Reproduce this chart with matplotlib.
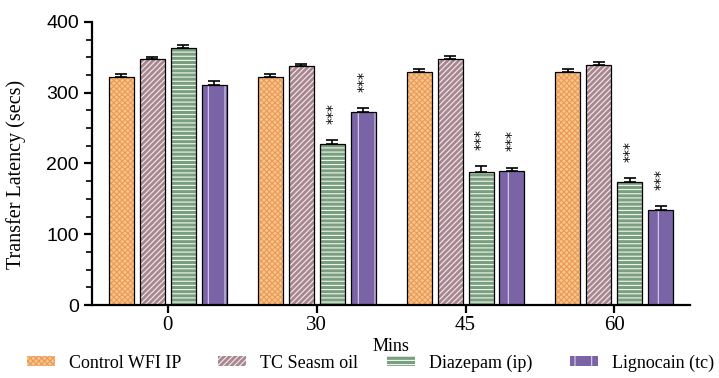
import numpy as np
import matplotlib
matplotlib.use('Agg')
import matplotlib.pyplot as plt
from matplotlib.ticker import MultipleLocator

times = ["0", "30", "45", "60"]
groups = ["Control WFI IP", "TC Seasm oil", "Diazepam (ip)", "Lignocain (tc)"]
control = [322, 322, 329, 329]
control_err = [5, 4, 5, 5]
seasm = [348, 338, 347, 339]
seasm_err = [3, 2, 5, 5]
diazepam = [363, 227, 188, 174]
diazepam_err = [4, 6, 8, 5]
lignocain = [311, 273, 190, 134]
lignocain_err = [5, 5, 4, 6]
# significance marks: (time index, series index)
stars = [(1, 2), (1, 3), (2, 2), (2, 3), (3, 2), (3, 3)]

series = [control, seasm, diazepam, lignocain]
errors = [control_err, seasm_err, diazepam_err, lignocain_err]
styles = [
    {"face": "#F9C48C", "hatch": "xxxxxx", "hcol": "#E99B55"},
    {"face": "#A88790", "hatch": "//////", "hcol": "#F4ECEE"},
    {"face": "#7A9F7E", "hatch": "----",   "hcol": "#F1F6F1"},
    {"face": "#7A64A6", "hatch": "|",      "hcol": "#D9D2EC"},
]

plt.rcParams['hatch.linewidth'] = 0.8
fig = plt.figure(figsize=(7.19, 3.78), dpi=100)
ax = fig.add_axes([0.128, 0.193, 0.832, 0.749])

x = np.arange(len(times))
step = 0.208
width = 0.168
handles = []
for i, (vals, errs, st) in enumerate(zip(series, errors, styles)):
    pos = x + (i - 1.5) * step
    ax.bar(pos, vals, width, color=st["face"], edgecolor=st["hcol"],
           hatch=st["hatch"], linewidth=0, zorder=2)
    ax.bar(pos, vals, width, color='none', edgecolor='black', linewidth=0.9, zorder=3)
    ax.errorbar(pos, vals, yerr=[np.zeros(len(errs)), errs], fmt='none',
                ecolor='black', elinewidth=1.2, capsize=4, capthick=1.2, zorder=4)
    h = matplotlib.patches.Patch(facecolor=st["face"], edgecolor=st["hcol"], hatch=st["hatch"],
                                 linewidth=0)
    handles.append(h)

for ti, si in stars:
    xp = x[ti] + (si - 1.5) * step
    top = series[si][ti] + errors[si][ti]
    ax.text(xp, top + 38, '***', rotation=90, ha='center', va='center',
            fontsize=10, family='DejaVu Sans', color='black')

ax.set_xlim(-0.51, 3.51)
ax.set_ylim(0, 400)
ax.yaxis.set_major_locator(MultipleLocator(100))
ax.yaxis.set_minor_locator(MultipleLocator(25))
ax.set_xticks(x)
ax.set_xticklabels(times, fontsize=15, family='Liberation Serif')
for side in ['top', 'right']:
    ax.spines[side].set_visible(False)
for side in ['left', 'bottom']:
    ax.spines[side].set_linewidth(1.6)
ax.tick_params(axis='y', which='major', labelsize=14, width=1.6, length=6,
               labelfontfamily='Liberation Sans')
ax.tick_params(axis='x', which='major', width=1.6, length=6, pad=2)
ax.tick_params(axis='y', which='minor', width=1.2, length=4)

ax.set_ylabel('Transfer Latency (secs)', fontsize=14.5, family='Liberation Serif')
ax.yaxis.set_label_coords(-0.11, 0.46)
ax.set_xlabel('Mins', fontsize=13, family='Liberation Serif', labelpad=2)

## one legend per entry, placed like the reference
leg_x = [27, 218, 387, 570]
for h, lab, lx in zip(handles, groups, leg_x):
    fig.legend([h], [lab], loc='center left', bbox_to_anchor=(lx / 719, 1 - 363 / 378),
               frameon=False, prop={'family': 'Liberation Serif', 'size': 13},
               handlelength=1.55, handleheight=0.45, handletextpad=0.8,
               borderpad=0, borderaxespad=0)

fig.savefig('out.png', dpi=100)
